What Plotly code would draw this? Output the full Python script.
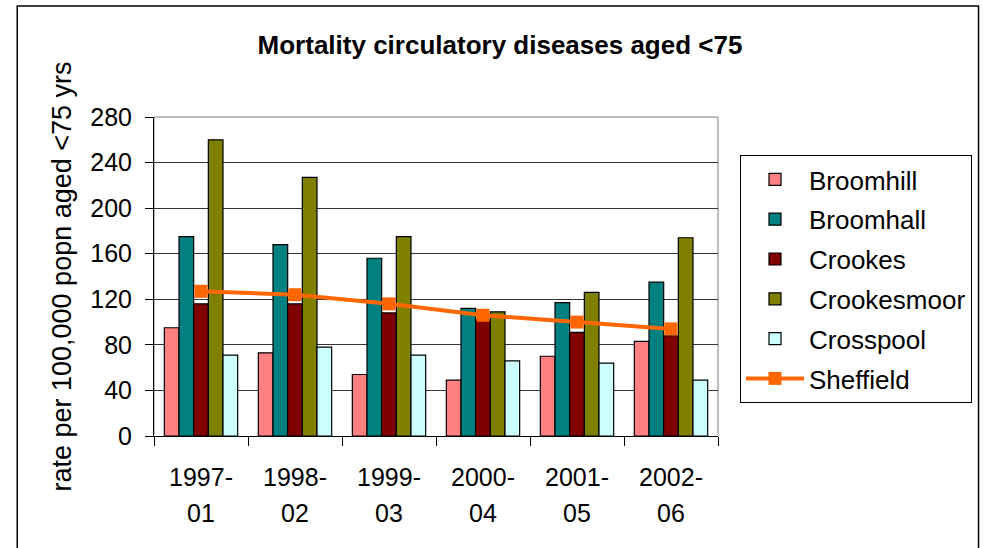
import plotly.graph_objects as go

periods = ["1997-01", "1998-02", "1999-03", "2000-04", "2001-05", "2002-06"]
tick_labels = ["1997-<br>01", "1998-<br>02", "1999-<br>03", "2000-<br>04", "2001-<br>05", "2002-<br>06"]

broomhill = [95, 73, 54, 49, 70, 83]
broomhall = [175, 168, 156, 112, 117, 135]
crookes = [116, 116, 108, 102, 91, 88]
crookesmoor = [260, 227, 175, 109, 126, 174]
crosspool = [71, 78, 71, 66, 64, 49]
sheffield = [127, 124, 116, 106, 100, 94]

bar_series = [
    ("Broomhill", broomhill, "#FF8080"),
    ("Broomhall", broomhall, "#008080"),
    ("Crookes", crookes, "#800000"),
    ("Crookesmoor", crookesmoor, "#808000"),
    ("Crosspool", crosspool, "#CCFFFF"),
]

FONT = "Liberation Sans, Arial, sans-serif"

fig = go.Figure()
for name, vals, col in bar_series:
    fig.add_trace(go.Bar(
        x=periods, y=vals, name=name, legendgroup=name,
        marker=dict(color=col, line=dict(color="black", width=1.2)),
    ))
fig.add_trace(go.Scatter(
    x=periods, y=sheffield, name="Sheffield", legendgroup="Sheffield",
    mode="lines+markers",
    line=dict(color="#FF6600", width=4),
    marker=dict(symbol="square", size=13, color="#FF6600"),
))

L, R, T, B = 154, 264, 117, 112
W, H = 983, 548
pw = W - L - R
ph = H - T - B

def px(xp):
    return (xp - L) / pw

def py(yp):
    return (H - B - yp) / ph

styled_ticks = ['<span style="font-size:25px">%s</span>' % t.replace("<br>", '</span><br><span style="font-size:25px">') for t in tick_labels]

fig.update_layout(
    width=W, height=H,
    margin=dict(l=L, r=R, t=T, b=B, pad=0),
    paper_bgcolor="white", plot_bgcolor="white",
    font=dict(family=FONT, color="black", size=24),
    title=dict(text="<b>Mortality circulatory diseases aged <75</b>",
               x=500 / W, xanchor="center", y=1 - 45 / H, yanchor="middle",
               font=dict(size=26, family=FONT, color="black")),
    barmode="group", bargap=0.22, bargroupgap=0,
    showlegend=True,
    legend=dict(x=px(740), y=py(155), xanchor="left", yanchor="top",
                bordercolor="black", borderwidth=1, bgcolor="white",
                font=dict(size=26, family=FONT), traceorder="grouped",
                tracegroupgap=3, itemwidth=58),
    xaxis=dict(type="category", tickmode="array", tickvals=periods, ticktext=styled_ticks,
               showline=True, linecolor="black", linewidth=1,
               ticks="outside", tickson="boundaries", ticklen=9, tickcolor="black",
               tickfont=dict(size=28, family=FONT), showgrid=False,
               ticklabelstandoff=15),
    yaxis=dict(range=[0, 280], dtick=40, tick0=0,
               showline=True, linecolor="black", linewidth=1,
               ticks="outside", ticklen=8, tickcolor="black",
               showgrid=True, gridcolor="#333333", gridwidth=1,
               tickfont=dict(size=25, family=FONT), ticklabelstandoff=8,
               title=dict(text="rate per 100,000 popn aged <75 yrs",
                          font=dict(size=27, family=FONT), standoff=10)),
    shapes=[
        dict(type="rect", xref="paper", yref="paper", x0=0, x1=1, y0=0, y1=1,
             line=dict(color="#808080", width=1), layer="below"),
        dict(type="rect", xref="paper", yref="paper",
             x0=px(17), x1=px(980), y0=py(560), y1=py(6),
             line=dict(color="black", width=1.5), layer="below"),
    ],
)

fig.write_html("out.html", config={"displayModeBar": False},
               post_script="document.body.style.margin='0';document.body.style.overflow='hidden';")
